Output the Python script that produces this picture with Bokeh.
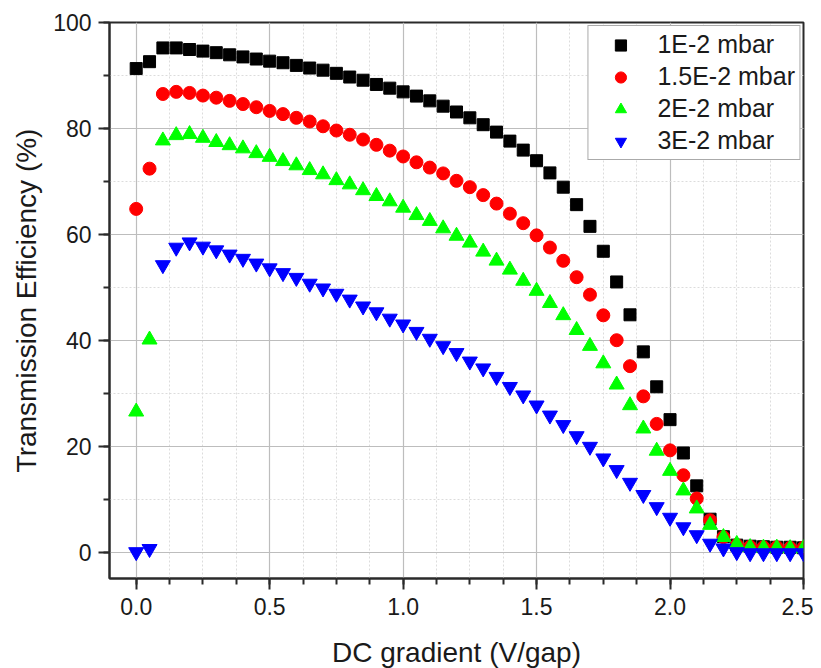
from bokeh.plotting import figure
from bokeh.models import (SingleIntervalTicker, Range1d, Legend, LegendItem,
                          PrintfTickFormatter, ColumnDataSource)
from bokeh.embed import file_html
from bokeh.resources import INLINE

# DC gradient (V/gap)
gradient = [0.00, 0.05, 0.10, 0.15, 0.20, 0.25, 0.30, 0.35, 0.40, 0.45,
            0.50, 0.55, 0.60, 0.65, 0.70, 0.75, 0.80, 0.85, 0.90, 0.95,
            1.00, 1.05, 1.10, 1.15, 1.20, 1.25, 1.30, 1.35, 1.40, 1.45,
            1.50, 1.55, 1.60, 1.65, 1.70, 1.75, 1.80, 1.85, 1.90, 1.95,
            2.00, 2.05, 2.10, 2.15, 2.20, 2.25, 2.30, 2.35, 2.40, 2.45,
            2.50]

# Transmission efficiency (%)
eff_1e2 = [91.3, 92.6, 95.2, 95.2, 94.9, 94.6, 94.3, 93.9, 93.5, 93.1,
           92.7, 92.4, 91.9, 91.4, 91.0, 90.4, 89.7, 89.1, 88.3, 87.6,
           86.9, 86.1, 85.2, 84.2, 83.1, 82.0, 80.7, 79.3, 77.6, 75.9,
           73.9, 71.6, 68.9, 65.6, 61.5, 56.8, 51.0, 44.8, 37.8, 31.2,
           25.0, 18.7, 12.5, 6.2, 2.9, 1.3, 1.1, 1.0, 0.9, 0.9,
           0.8]
eff_15e2 = [64.8, 72.4, 86.5, 86.9, 86.7, 86.2, 85.8, 85.2, 84.6, 84.0,
            83.3, 82.7, 82.0, 81.3, 80.4, 79.6, 78.8, 77.9, 76.9, 75.8,
            74.7, 73.6, 72.6, 71.5, 70.1, 68.9, 67.4, 65.8, 63.9, 62.1,
            59.8, 57.5, 55.0, 51.9, 48.6, 44.7, 40.0, 35.1, 29.4, 24.2,
            19.2, 14.5, 10.1, 6.0, 2.8, 1.3, 1.0, 0.9, 0.9, 0.8,
            0.8]
eff_2e2 = [26.5, 40.1, 77.7, 78.7, 78.9, 78.2, 77.4, 76.8, 76.2, 75.3,
           74.6, 73.8, 73.0, 72.1, 71.3, 70.2, 69.4, 68.3, 67.2, 66.2,
           65.0, 63.6, 62.5, 61.1, 59.7, 58.4, 56.7, 55.0, 53.3, 51.2,
           49.3, 47.0, 44.7, 41.9, 38.9, 35.6, 31.6, 27.7, 23.3, 19.1,
           15.3, 11.6, 8.2, 5.1, 2.8, 1.5, 0.9, 0.8, 0.8, 0.7,
           0.7]
eff_3e2 = [0.0, 0.6, 54.2, 57.5, 58.5, 57.7, 57.0, 56.2, 55.4, 54.5,
           53.6, 52.7, 51.8, 50.7, 49.8, 48.8, 47.7, 46.4, 45.3, 44.1,
           43.0, 41.6, 40.3, 38.9, 37.6, 36.0, 34.7, 33.1, 31.2, 29.6,
           27.7, 25.8, 24.0, 21.9, 19.9, 17.7, 15.5, 13.1, 10.8, 8.5,
           6.5, 4.7, 3.2, 1.6, 0.7, 0.0, -0.2, -0.2, -0.2, -0.2,
           -0.2]

series_labels = ["1E-2 mbar", "1.5E-2 mbar", "2E-2 mbar", "3E-2 mbar"]

x_ticks_major = 0.5
y_ticks_major = 20

FONT = "Liberation Sans"
TXT = "#1a1a1a"

p = figure(frame_width=694, frame_height=556,
           x_range=Range1d(-0.1, 2.5), y_range=Range1d(-5, 100),
           output_backend="svg", toolbar_location=None,
           min_border_left=109, min_border_right=10,
           min_border_top=22, min_border_bottom=80,
           background_fill_color="white", border_fill_color="white")

xt = SingleIntervalTicker(interval=x_ticks_major, num_minor_ticks=4)
yt = SingleIntervalTicker(interval=y_ticks_major, num_minor_ticks=2)
p.xaxis.ticker = xt
p.yaxis.ticker = yt
p.xgrid.ticker = xt
p.ygrid.ticker = yt
p.xaxis.formatter = PrintfTickFormatter(format="%.1f")
p.yaxis.formatter = PrintfTickFormatter(format="%d")

for g in (p.xgrid, p.ygrid):
    g.grid_line_color = "#bdbdbd"
    g.grid_line_width = 1.2
    g.minor_grid_line_color = "#dcdcdc"
    g.minor_grid_line_dash = "2 2"
    g.minor_grid_line_width = 1

p.outline_line_color = "#2a2a2a"
p.outline_line_width = 2
p.outline_line_alpha = 1

for ax in (p.xaxis, p.yaxis):
    ax.axis_line_color = "#2a2a2a"
    ax.axis_line_width = 2
    ax.major_tick_line_color = "#2a2a2a"
    ax.major_tick_line_width = 2
    ax.minor_tick_line_color = "#2a2a2a"
    ax.minor_tick_line_width = 2
    ax.major_tick_in = 0
    ax.major_tick_out = 11
    ax.minor_tick_in = 0
    ax.minor_tick_out = 6
    ax.major_label_text_font = FONT
    ax.major_label_text_font_size = "23px"
    ax.major_label_text_color = TXT
    ax.axis_label_text_font = FONT
    ax.axis_label_text_font_size = "28px"
    ax.axis_label_text_font_style = "normal"
    ax.axis_label_text_color = TXT

p.xaxis.axis_label = "DC gradient (V/gap)"
p.yaxis.axis_label = "Transmission Efficiency (%)"
p.xaxis.major_label_standoff = 8
p.xaxis.axis_label_standoff = 19
p.yaxis.major_label_standoff = 7
p.yaxis.axis_label_standoff = 8

src = ColumnDataSource(dict(x=gradient, a=eff_1e2, b=eff_15e2, c=eff_2e2, d=eff_3e2))

r1 = p.scatter("x", "a", source=src, marker="square", size=12,
               fill_color="black", line_color="black")
r2 = p.scatter("x", "b", source=src, marker="circle", size=13,
               fill_color="#ff0000", line_color="#ff0000")
r3 = p.scatter("x", "c", source=src, marker="triangle", size=15,
               fill_color="#00ff00", line_color="#00ff00")
r4 = p.scatter("x", "d", source=src, marker="inverted_triangle", size=15,
               fill_color="#0000ff", line_color="#0000ff")

legend = Legend(items=[LegendItem(label=series_labels[0], renderers=[r1]),
                       LegendItem(label=series_labels[1], renderers=[r2]),
                       LegendItem(label=series_labels[2], renderers=[r3]),
                       LegendItem(label=series_labels[3], renderers=[r4])],
                location="top_right")
legend.margin = 3
legend.padding = 4
legend.spacing = 3
legend.glyph_width = 56
legend.glyph_height = 28
legend.label_height = 28
legend.label_standoff = 9
legend.label_text_font = FONT
legend.label_text_font_size = "25px"
legend.label_text_color = TXT
legend.border_line_color = "#555555"
legend.border_line_width = 1.5
legend.background_fill_color = "white"
legend.background_fill_alpha = 1
p.add_layout(legend)

open("out.html", "w").write(file_html(p, INLINE))
